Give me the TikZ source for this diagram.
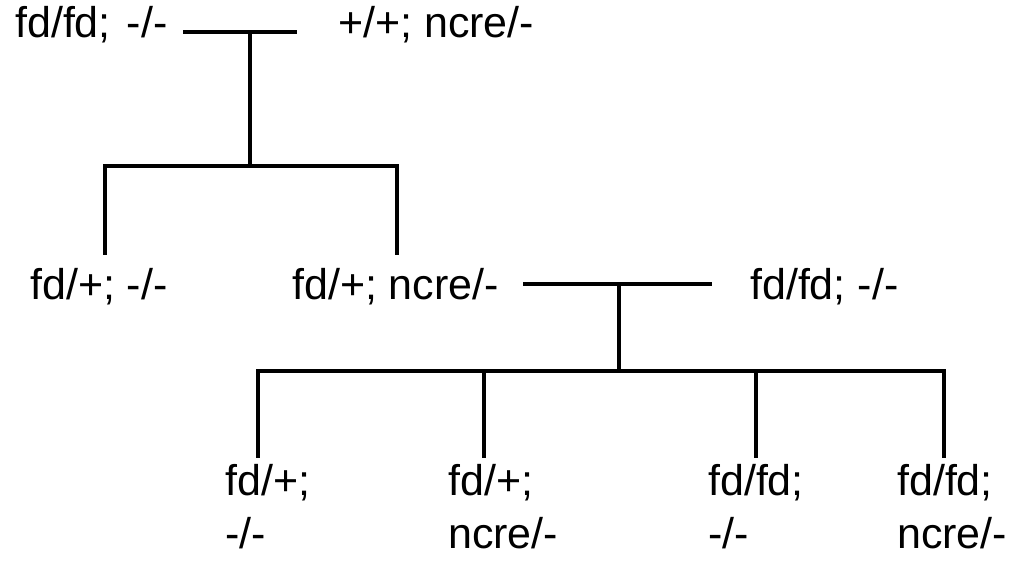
\documentclass[tikz,border=0pt]{standalone}
\usepackage{fontspec}
\setmainfont{Liberation Sans}
\newcommand{\twoline}[2]{\vtop{\baselineskip=53pt\hbox{#1}\hbox{#2}}}
\begin{document}
\begin{tikzpicture}[x=1pt,y=-1pt,
  lbl/.style={anchor=base west,inner sep=0pt,font=\fontsize{43}{50}\selectfont},
  bar/.style={line width=4.4pt,line cap=rect},
  mate/.style={line width=4.8pt},
  stem/.style={line width=4.4pt}]
\useasboundingbox (0,0) rectangle (1014,565);
% generation 1
\node[lbl] (p1) at (15,37) {fd/fd;\hspace{16pt}-/-};
\node[lbl] (p2) at (338,37) {+/+; ncre/-};
\coordinate (m1l) at (183,32);
\coordinate (m1r) at (297,32);
\coordinate (m1c) at (250,32);
\coordinate (s1c) at (250,166);
\coordinate (s1l) at (105,166);
\coordinate (s1r) at (397,166);
\draw[mate] (m1l) -- (m1r);
\draw[stem] (m1c) -- (s1c);
\draw[bar] (s1l) -- (s1r);
% generation 2
\node[lbl] (f1) at (30,299) {fd/+; -/-};
\node[lbl] (f2) at (292,299) {fd/+; ncre/-};
\node[lbl] (f3) at (750,299) {fd/fd; -/-};
\coordinate (c1) at (105,255);
\coordinate (c2) at (397,255);
\draw[stem] (s1l) -- (c1);
\draw[stem] (s1r) -- (c2);
\coordinate (m2l) at (523,284);
\coordinate (m2r) at (712,284);
\coordinate (m2c) at (619,284);
\coordinate (s2c) at (619,371);
\coordinate (s2a) at (258,371);
\coordinate (s2d) at (944,371);
\draw[mate] (m2l) -- (m2r);
\draw[stem] (m2c) -- (s2c);
\draw[bar] (s2a) -- (s2d);
% generation 3
\node[lbl] (g1) at (225,495) {\twoline{fd/+;}{-/-}};
\node[lbl] (g2) at (448,495) {\twoline{fd/+;}{ncre/-}};
\node[lbl] (g3) at (708,495) {\twoline{fd/fd;}{-/-}};
\node[lbl] (g4) at (897,495) {\twoline{fd/fd;}{ncre/-}};
\coordinate (b1) at (258,371);
\coordinate (b2) at (484,371);
\coordinate (b3) at (756,371);
\coordinate (b4) at (944,371);
\coordinate (e1) at (258,458);
\coordinate (e2) at (484,458);
\coordinate (e3) at (756,458);
\coordinate (e4) at (944,458);
\draw[stem] (b1) -- (e1);
\draw[stem] (b2) -- (e2);
\draw[stem] (b3) -- (e3);
\draw[stem] (b4) -- (e4);
\end{tikzpicture}
\end{document}
